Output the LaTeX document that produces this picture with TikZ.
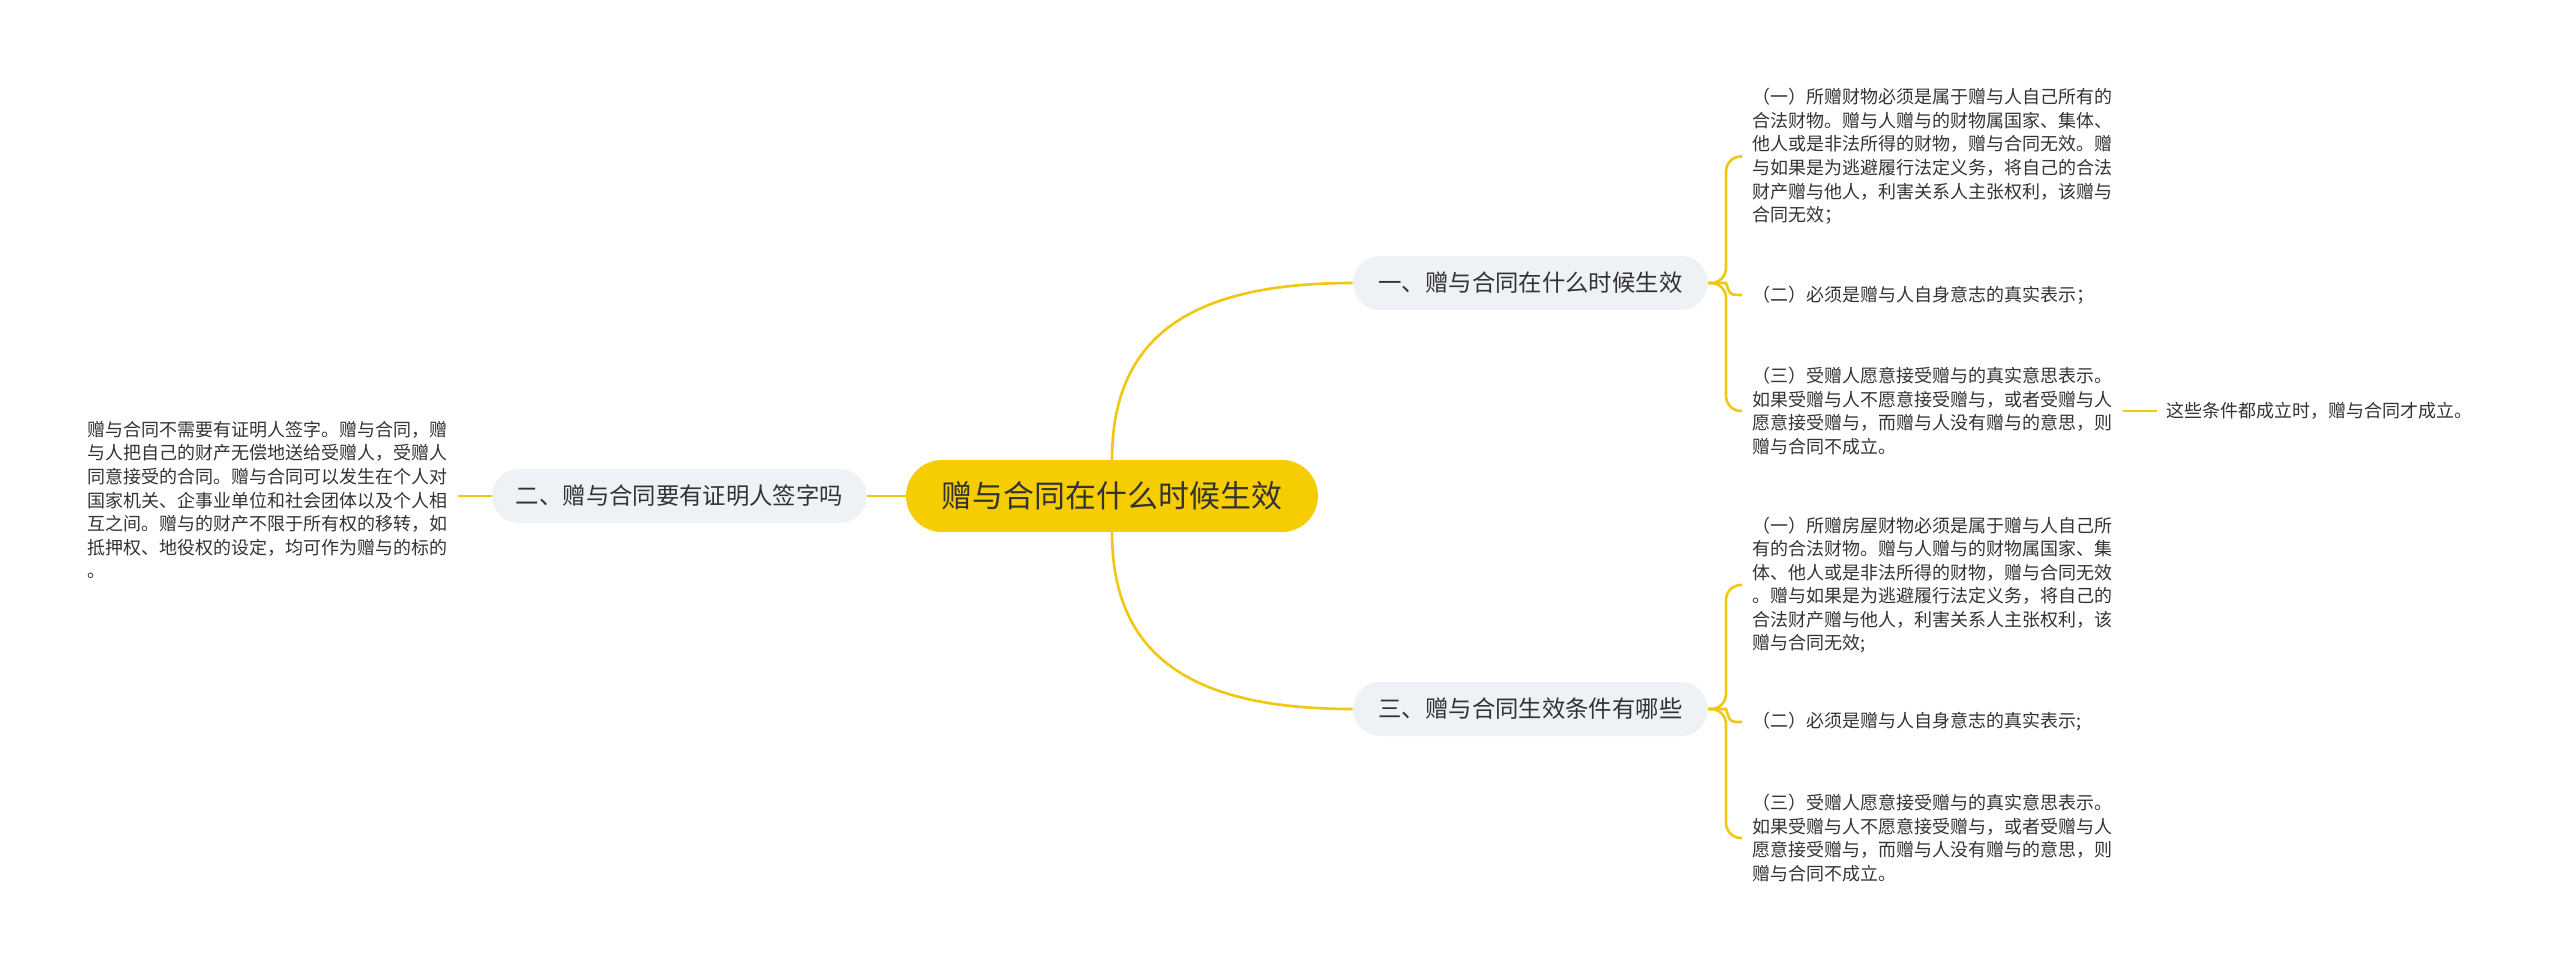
\documentclass[tikz,border=0pt]{standalone}
\usepackage{fontspec}
\setmainfont{Noto Sans CJK SC}
\usetikzlibrary{positioning}
\definecolor{giftyellow}{RGB}{245,205,0}
\definecolor{linkyellow}{RGB}{240,200,20}
\definecolor{topicgray}{RGB}{238,241,245}
\definecolor{inkgray}{RGB}{51,51,51}

\begin{document}
\begin{tikzpicture}[
            x=0.02cm, y=-0.02cm,
            root/.style={rectangle, rounded corners=0.72cm, fill=giftyellow, text=inkgray,
                    minimum width=8.24cm, minimum height=1.44cm, inner sep=0pt,
                    font=\fontsize{17.6pt}{20pt}\selectfont},
            topic/.style={rectangle, rounded corners=0.54cm, fill=topicgray, text=inkgray,
                    minimum width=7.1cm, minimum height=1.08cm, inner sep=0pt,
                    font=\fontsize{13.3pt}{16pt}\selectfont},
            leaf/.style={align=left, text=inkgray, inner xsep=0.2cm, inner ysep=0pt,
                    font=\fontsize{10.24pt}{13.4pt}\selectfont},
            link/.style={draw=linkyellow, line width=1.5pt}
        ]
        \useasboundingbox (0,0) rectangle (2560,970);

        \node[root] (root) at (1112,496) {赠与合同在什么时候生效};
        \node[topic] (b1) at (1530.5,283) {一、赠与合同在什么时候生效};
        \node[topic, minimum width=7.5cm] (b2) at (679.5,496) {二、赠与合同要有证明人签字吗};
        \node[topic] (b3) at (1530.5,709) {三、赠与合同生效条件有哪些};

        % leaves of the first topic
        \node[leaf, anchor=west] (l1) at (1742,156.5) {（一）所赠财物必须是属于赠与人自己所有的\\
            合法财物。赠与人赠与的财物属国家、集体、\\
            他人或是非法所得的财物，赠与合同无效。赠\\
            与如果是为逃避履行法定义务，将自己的合法\\
            财产赠与他人，利害关系人主张权利，该赠与\\
            合同无效；};
        \node[leaf, anchor=west] (l2) at (1742,295) {（二）必须是赠与人自身意志的真实表示；};
        \node[leaf, anchor=west] (l3) at (1742,411) {（三）受赠人愿意接受赠与的真实意思表示。\\
            如果受赠与人不愿意接受赠与，或者受赠与人\\
            愿意接受赠与，而赠与人没有赠与的意思，则\\
            赠与合同不成立。};
        \node[leaf, right=0.68cm of l3] (l3c) {这些条件都成立时，赠与合同才成立。};

        % leaf of the second topic
        \node[leaf, anchor=east] (lf) at (458,500) {赠与合同不需要有证明人签字。赠与合同，赠\\
            与人把自己的财产无偿地送给受赠人，受赠人\\
            同意接受的合同。赠与合同可以发生在个人对\\
            国家机关、企事业单位和社会团体以及个人相\\
            互之间。赠与的财产不限于所有权的移转，如\\
            抵押权、地役权的设定，均可作为赠与的标的\\
            。};

        % leaves of the third topic
        \node[leaf, anchor=west] (m1) at (1742,585) {（一）所赠房屋财物必须是属于赠与人自己所\\
            有的合法财物。赠与人赠与的财物属国家、集\\
            体、他人或是非法所得的财物，赠与合同无效\\
            。赠与如果是为逃避履行法定义务，将自己的\\
            合法财产赠与他人，利害关系人主张权利，该\\
            赠与合同无效;};
        \node[leaf, anchor=west] (m2) at (1742,722) {（二）必须是赠与人自身意志的真实表示;};
        \node[leaf, anchor=west] (m3) at (1742,838) {（三）受赠人愿意接受赠与的真实意思表示。\\
            如果受赠与人不愿意接受赠与，或者受赠与人\\
            愿意接受赠与，而赠与人没有赠与的意思，则\\
            赠与合同不成立。};

        \coordinate (j1) at (1726,283);
        \coordinate (j3) at (1726,709);

        % connectors
        \draw[link] (root.north) .. controls ++(0,-130) and (1200,283) .. (b1.west);
        \draw[link] (root.south) .. controls ++(0,130) and (1200,709) .. (b3.west);
        \draw[link] (root.west) -- (b2.east);
        \draw[link] (b2.west) -- (b2.west -| lf.east);
        \foreach \leaf in {l1,l3}
            \draw[link, rounded corners=0.3cm] (b1.east) -- (j1) |- (\leaf.west);
        \foreach \leaf in {m1,m3}
            \draw[link, rounded corners=0.3cm] (b3.east) -- (j3) |- (\leaf.west);
        \draw[link] (b1.east) -- (j1) .. controls (1730,295) .. (l2.west);
        \draw[link] (b3.east) -- (j3) .. controls (1730,722) .. (m2.west);
        \draw[link] (l3.east) -- (l3c.west);
    \end{tikzpicture}
\end{document}
